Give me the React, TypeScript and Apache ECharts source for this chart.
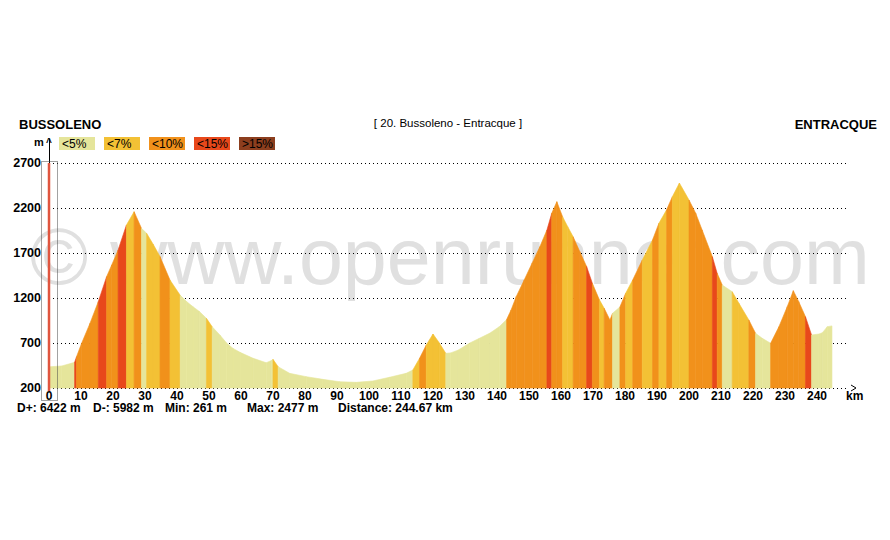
import React, { useEffect, useRef } from "react";
import * as echarts from "echarts";

// Profile: distance (km) and elevation (m)
const distKm = [
  0, 4, 8, 8.6, 10.2, 12.8, 15.4, 18.0, 19.6, 21.6, 24.2, 26.6, 28.9, 30.5, 32.5, 34.7,
  37.8, 41, 43, 45, 47, 49.2, 51, 53.4, 55.5, 57.5, 59.7, 63.8, 67.9, 69.5, 70.0, 71.6,
  75.2, 80.4, 85.6, 90.8, 96, 101.2, 106.4, 111.6, 113.7, 115.8, 117.9, 120, 122, 124,
  125.5, 127.8, 131.5, 134.5, 137.8, 140.7, 143, 144.4, 146, 148.5, 151, 153.4, 155.6,
  157.1, 158.7, 160.5, 162.1, 163.8, 165.9, 168, 169.8, 172, 173.5, 175.3, 176.1, 178.4,
  180.2, 182.4, 185.4, 188.6, 190.6, 193, 194.8, 197, 200, 202.1, 204.1, 207.3, 208.8,
  210.4, 213.5, 215.6, 218.7, 220.8, 222.9, 225.5, 228.1, 230.7, 232.6, 234.3, 236.4,
  238.3, 240.6, 241.7, 243.2, 244.67,
];
const elevM = [
  435, 445, 485, 548, 697, 918, 1159, 1437, 1567, 1733, 2011, 2159, 1974, 1919, 1800, 1660,
  1400, 1230, 1160, 1103, 1050, 974, 880, 789, 700, 640, 596, 530, 481, 505, 519, 437,
  363, 326, 296, 270, 263, 278, 319, 363, 400, 530, 678, 800, 700, 585,
  590, 620, 700, 752, 810, 881, 960, 1067, 1215, 1400, 1590, 1770, 1955,
  2141, 2270, 2103, 1992, 1880, 1714, 1550, 1363, 1180, 1085, 955, 1030, 1100,
  1252, 1400, 1622, 1845, 2030, 2180, 2326, 2477, 2289, 2141, 1956, 1659, 1474,
  1344, 1270, 1141, 956, 808, 752, 697, 881, 1103, 1281, 1159, 992,
  789, 800, 815, 881, 890,
];

const gradeLabels = ["<5%", "<7%", "<10%", "<15%", ">15%"];
const gradeLimits = [5, 7, 10, 15];
const gradeColors = ["#e5e59b", "#f3c135", "#f1911b", "#e8481b", "#8c3e1e"];

const startName = "BUSSOLENO";
const endName = "ENTRACQUE";
const routeTitle = "[ 20. Bussoleno - Entracque ]";
const statTexts = ["D+: 6422 m", "D-: 5982 m", "Min: 261 m", "Max: 2477 m", "Distance: 244.67 km"];
const watermark = "\u00a9 www.openrunner.com";

const FONT = '"Liberation Sans", Arial, Helvetica, sans-serif';

function gradeIndex(pct: number) {
  for (let i = 0; i < gradeLimits.length; i++) if (pct < gradeLimits[i]) return i;
  return gradeLimits.length;
}

export default function App() {
  const ref = useRef<HTMLDivElement>(null);
  useEffect(() => {
    if (!ref.current) return;
    const chart = echarts.init(ref.current, null, { renderer: "svg" });
    const segs: number[][] = [];
    for (let i = 0; i < distKm.length - 1; i++) {
      segs.push([distKm[i], elevM[i], distKm[i + 1], elevM[i + 1]]);
    }
    const statX = [17, 93, 165, 247, 338];
    const legendX = [59, 104, 149, 194, 239];
    const graphics: any[] = [
      {
        type: "text",
        x: 30,
        y: 256,
        z: 0,
        silent: true,
        style: { text: watermark, font: `79px ${FONT}`, fill: "#e0e0e0", verticalAlign: "middle" },
      },
      { type: "text", x: 19, y: 124, z: 10, style: { text: startName, font: `bold 13px ${FONT}`, fill: "#000", verticalAlign: "middle" } },
      { type: "text", x: 448, y: 123, z: 10, style: { text: routeTitle, font: `11.5px ${FONT}`, fill: "#000", align: "center", verticalAlign: "middle" } },
      { type: "text", x: 877, y: 124, z: 10, style: { text: endName, font: `bold 13px ${FONT}`, fill: "#000", align: "right", verticalAlign: "middle" } },
      { type: "text", x: 34, y: 142, z: 10, style: { text: "m", font: `bold 11px ${FONT}`, fill: "#000", verticalAlign: "middle" } },
      { type: "text", x: 46, y: 142, z: 10, style: { text: "^", font: `bold 10px ${FONT}`, fill: "#000", verticalAlign: "middle" } },
      { type: "line", z: 10, shape: { x1: 49.5, y1: 139, x2: 49.5, y2: 163 }, style: { stroke: "#000", lineWidth: 1 } },
      { type: "rect", z: 10, shape: { x: 41.5, y: 161.5, width: 16, height: 239 }, style: { fill: "none", stroke: "#444", lineWidth: 1, lineDash: [1, 1] } },
      { type: "line", z: 11, shape: { x1: 49, y1: 163, x2: 49, y2: 391 }, style: { stroke: "#e0553f", lineWidth: 2.5 } },
      { type: "polyline", z: 10, shape: { points: [[851, 385], [856, 388], [851, 391]] }, style: { stroke: "#000", lineWidth: 1, fill: "none" } },
      { type: "text", x: 846, y: 396, z: 10, style: { text: "km", font: `bold 12px ${FONT}`, fill: "#000", verticalAlign: "middle", lineHeight: 11 } },
    ];
    gradeLabels.forEach((lab, i) => {
      graphics.push({ type: "rect", z: 10, shape: { x: legendX[i], y: 137, width: 36, height: 13 }, style: { fill: gradeColors[i] } });
      graphics.push({ type: "text", x: legendX[i] + 3, y: 144, z: 11, style: { text: lab, font: `12px ${FONT}`, fill: "#000", verticalAlign: "middle" } });
    });
    statTexts.forEach((t, i) => {
      graphics.push({ type: "text", x: statX[i], y: 408, z: 10, style: { text: t, font: `bold 12px ${FONT}`, fill: "#000", verticalAlign: "middle", lineHeight: 11 } });
    });

    chart.setOption({
      animation: false,
      backgroundColor: "#fff",
      grid: { left: 49, top: 163, width: 800, height: 225 },
      xAxis: {
        type: "value",
        min: 0,
        max: 250,
        interval: 10,
        axisLine: { show: false },
        axisTick: { show: false },
        splitLine: { show: false },
        axisLabel: { showMaxLabel: false, margin: 2, color: "#000", fontSize: 12, lineHeight: 11, fontWeight: "bold", fontFamily: FONT, formatter: (v: number) => String(v) },
      },
      yAxis: {
        type: "value",
        min: 200,
        max: 2700,
        interval: 500,
        axisLine: { show: false },
        axisTick: { show: false },
        splitLine: { show: true, lineStyle: { color: "#000", width: 1, type: [1, 3] } },
        axisLabel: { margin: 8, color: "#000", fontSize: 12.5, fontWeight: "bold", fontFamily: FONT, padding: [0, 0, 6, 0], formatter: (v: number) => String(v) },
      },
      graphic: graphics,
      series: [
        {
          type: "custom",
          z: 5,
          encode: { x: [0, 2], y: [1, 3] },
          data: segs,
          renderItem: (params: any, api: any) => {
            const d0 = api.value(0), e0 = api.value(1), d1 = api.value(2), e1 = api.value(3);
            const p0 = api.coord([d0, e0]);
            const p1 = api.coord([d1, e1]);
            const b0 = api.coord([d0, 200]);
            const b1 = api.coord([d1, 200]);
            const pct = (Math.abs(e1 - e0) / ((d1 - d0) * 1000)) * 100;
            const col = gradeColors[gradeIndex(pct)];
            return {
              type: "polygon",
              shape: { points: [b0, p0, p1, b1] },
              style: { fill: col, stroke: col, lineWidth: 0.6 },
            };
          },
        },
      ],
    });
    return () => chart.dispose();
  }, []);
  return <div ref={ref} style={{ position: "absolute", left: 0, top: 0, width: 890, height: 540 }} />;
}
